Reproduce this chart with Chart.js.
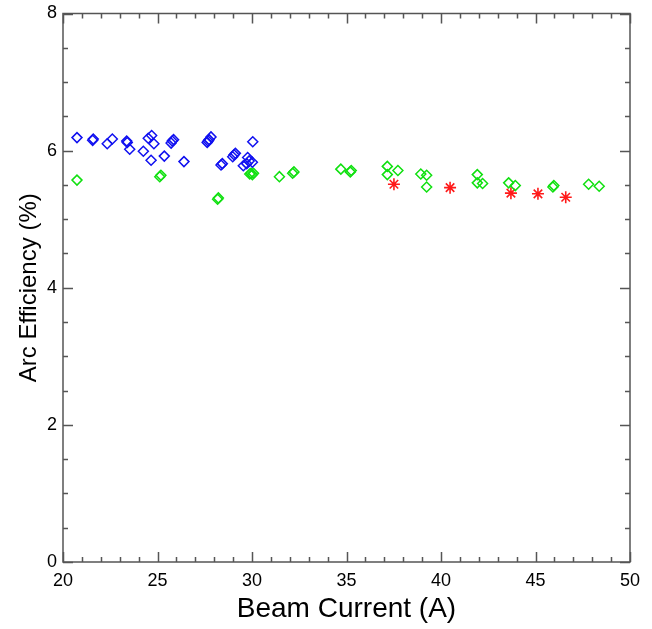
<!DOCTYPE html>
<html>
<head>
<meta charset="utf-8">
<script src="https://cdn.jsdelivr.net/npm/chart.js@4"></script>
<style>
html,body{margin:0;padding:0;background:#fff;}
canvas{display:block;}
</style>
</head>
<body>
<canvas id="c" width="652" height="629"></canvas>
<script>
// Data
const blueX = [20.74,21.57,21.60,22.34,22.61,23.37,23.40,23.53,24.25,24.51,24.69,24.81,24.66,25.36,25.72,25.78,25.85,26.40,27.63,27.68,27.73,27.83,28.36,28.43,28.98,29.05,29.12,29.54,29.77,29.72,30.02,29.85,30.04];
const blueY = [6.19,6.15,6.17,6.10,6.17,6.14,6.12,6.02,5.99,6.18,6.22,6.10,5.86,5.92,6.11,6.14,6.16,5.84,6.12,6.14,6.16,6.20,5.79,5.81,5.91,5.94,5.96,5.78,5.90,5.81,5.83,5.85,6.13];
const greenX = [20.74,25.12,25.18,28.18,28.22,29.88,29.95,30.02,30.08,31.45,32.15,32.22,34.70,35.20,35.25,37.16,37.16,37.72,38.93,39.24,39.24,41.92,41.92,42.20,43.58,43.93,45.92,45.97,47.81,48.37];
const greenY = [5.57,5.62,5.64,5.29,5.31,5.66,5.67,5.65,5.67,5.62,5.67,5.69,5.73,5.69,5.71,5.77,5.65,5.71,5.66,5.64,5.47,5.65,5.53,5.52,5.53,5.49,5.47,5.49,5.51,5.48];
const redX = [37.51,40.48,43.70,45.13,46.60];
const redY = [5.51,5.46,5.38,5.37,5.32];
const xTicks = [20,25,30,35,40,45,50];
const yTicks = [0,2,4,6,8];

const toPts = (xs, ys) => xs.map((x, i) => ({x: x, y: ys[i]}));

const FONT = "'Liberation Sans', Arial, Helvetica, sans-serif";
const AXIS_COLOR = '#555';

const boxTicks = {
  id: 'boxTicks',
  afterDraw(chart) {
    const ctx = chart.ctx;
    const a = chart.chartArea;
    const xs = chart.scales.x, ys = chart.scales.y;
    ctx.save();
    ctx.strokeStyle = AXIS_COLOR;
    ctx.lineWidth = 1.5;
    ctx.strokeRect(a.left, a.top, a.right - a.left, a.bottom - a.top);
    ctx.beginPath();
    for (let v = xs.min; v <= xs.max + 1e-9; v += 1) {
      const px = Math.round(xs.getPixelForValue(v)) + 0.5;
      const len = (Math.abs(v % 5) < 1e-9) ? 10 : 5;
      ctx.moveTo(px, a.bottom); ctx.lineTo(px, a.bottom - len);
      ctx.moveTo(px, a.top); ctx.lineTo(px, a.top + len);
    }
    for (let v = ys.min; v <= ys.max + 1e-9; v += 0.5) {
      const py = Math.round(ys.getPixelForValue(v)) + 0.5;
      const len = (Math.abs(v % 2) < 1e-9) ? 10 : 5;
      ctx.moveTo(a.left, py); ctx.lineTo(a.left + len, py);
      ctx.moveTo(a.right, py); ctx.lineTo(a.right - len, py);
    }
    ctx.stroke();
    ctx.restore();
  }
};

new Chart(document.getElementById('c'), {
  type: 'scatter',
  data: {
    datasets: [
      {data: toPts(blueX, blueY), pointStyle: 'rectRot', radius: 5, borderColor: '#1010f0', backgroundColor: 'rgba(0,0,0,0)', borderWidth: 1.5},
      {data: toPts(greenX, greenY), pointStyle: 'rectRot', radius: 5, borderColor: '#10e010', backgroundColor: 'rgba(0,0,0,0)', borderWidth: 1.5},
      {data: toPts(redX, redY), pointStyle: 'star', radius: 6, borderColor: '#ff1a1a', backgroundColor: 'rgba(0,0,0,0)', borderWidth: 1.6}
    ]
  },
  options: {
    responsive: false,
    animation: false,
    devicePixelRatio: 1,
    layout: {padding: {top: 13.5, right: 22, left: 0, bottom: 0}},
    plugins: {legend: {display: false}, tooltip: {enabled: false}},
    scales: {
      x: {
        type: 'linear', min: 20, max: 50,
        afterBuildTicks(s) { s.ticks = xTicks.map(v => ({value: v})); },
        afterFit(s) { s.height = 67; s.paddingLeft = 0; s.paddingRight = 0; },
        grid: {display: false, drawTicks: false},
        border: {display: false},
        ticks: {color: '#000', font: {family: FONT, size: 18}, padding: 8, maxRotation: 0},
        title: {display: true, text: 'Beam Current (A)', color: '#000', font: {family: FONT, size: 28}, padding: {top: 0, bottom: 3}}
      },
      y: {
        type: 'linear', min: 0, max: 8,
        afterBuildTicks(s) { s.ticks = yTicks.map(v => ({value: v})); },
        afterFit(s) { s.width = 63; s.paddingTop = 0; s.paddingBottom = 0; },
        grid: {display: false, drawTicks: false},
        border: {display: false},
        ticks: {color: '#000', font: {family: FONT, size: 18}, padding: 6},
        title: {display: true, text: 'Arc Efficiency (%)', color: '#000', font: {family: FONT, size: 24}, padding: {top: 15, bottom: 0}}
      }
    }
  },
  plugins: [boxTicks]
});
</script>
</body>
</html>
